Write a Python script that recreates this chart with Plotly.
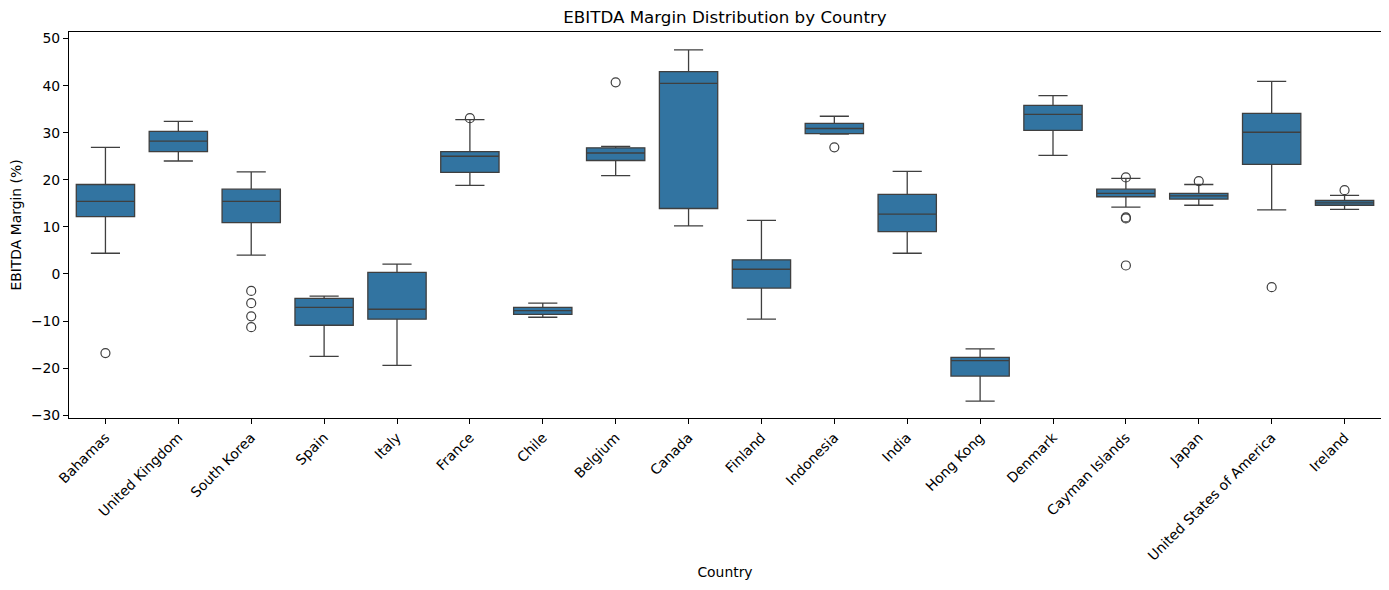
import plotly.graph_objects as go

# box statistics (EBITDA margin, %)
countries = ["Bahamas", "United Kingdom", "South Korea", "Spain", "Italy", "France",
             "Chile", "Belgium", "Canada", "Finland", "Indonesia", "India",
             "Hong Kong", "Denmark", "Cayman Islands", "Japan",
             "United States of America", "Ireland"]
lower_whisker = [4.4, 24.0, 4.0, -17.5, -19.4, 18.8, -9.2, 20.9, 10.2, -9.6, 29.7, 4.4,
                 -27.0, 25.2, 14.2, 14.6, 13.6, 13.7]
q1 = [12.2, 26.0, 10.9, -10.9, -9.6, 21.6, -8.6, 24.1, 13.9, -3.0, 29.8, 9.0,
      -21.7, 30.5, 16.4, 15.9, 23.3, 14.6]
medians = [15.4, 28.2, 15.4, -7.1, -7.5, 25.0, -7.8, 25.7, 40.5, 1.0, 30.9, 12.7,
           -18.4, 33.9, 17.1, 16.6, 30.1, 15.1]
q3 = [19.0, 30.3, 18.0, -5.2, 0.35, 26.0, -7.1, 26.8, 43.0, 3.0, 32.0, 16.9,
      -17.7, 35.8, 18.0, 17.1, 34.1, 15.6]
upper_whisker = [26.9, 32.4, 21.7, -4.7, 2.1, 32.8, -6.2, 27.1, 47.6, 11.4, 33.5, 21.8,
                 -15.9, 37.9, 20.3, 19.0, 40.9, 16.7]

outlier_countries = ["Bahamas", "South Korea", "South Korea", "South Korea", "South Korea",
                     "France", "Belgium", "Indonesia", "Cayman Islands", "Cayman Islands",
                     "Cayman Islands", "Cayman Islands", "Japan",
                     "United States of America", "Ireland"]
outlier_values = [-16.8, -3.6, -6.2, -9.0, -11.3, 33.1, 40.7, 26.9, 20.5, 12.0, 11.8, 1.8,
                  19.7, -2.8, 17.8]

edge = "#3f3f3f"

fig = go.Figure()
fig.add_trace(go.Box(
    x=countries, q1=q1, median=medians, q3=q3,
    lowerfence=lower_whisker, upperfence=upper_whisker,
    boxpoints=False, width=0.8, whiskerwidth=0.5,
    fillcolor="#3274a1", line=dict(color=edge, width=1.3),
    showlegend=False,
))
fig.add_trace(go.Scatter(
    x=outlier_countries, y=outlier_values, mode="markers",
    marker=dict(symbol="circle-open", size=9, color=edge, line=dict(width=1.2, color=edge)),
    showlegend=False,
))

# page body has an 8px margin, so the figure is drawn 8px smaller and shifted
fig.update_layout(
    width=1381, height=582,
    margin=dict(l=61, r=8, t=24, b=172),
    plot_bgcolor="white", paper_bgcolor="white",
    font=dict(family="DejaVu Sans", size=13.9, color="black"),
    title=dict(text="EBITDA Margin Distribution by Country", x=0.5, xref="paper",
               y=1 - 9 / 582, yref="container", yanchor="middle",
               font=dict(size=16.7)),
)
fig.update_xaxes(
    title=dict(text="Country", font=dict(size=13.9), standoff=4),
    categoryorder="array", categoryarray=countries,
    range=[-0.5, len(countries) - 0.5],
    tickangle=-45, ticks="outside", ticklen=5, tickcolor="black",
    showline=True, linecolor="black", linewidth=1, mirror=True,
    showgrid=False, zeroline=False, automargin=False,
)
fig.update_yaxes(
    title=dict(text="EBITDA Margin (%)", font=dict(size=13.9), standoff=8),
    range=[-30.6, 51.4], tickvals=[-30, -20, -10, 0, 10, 20, 30, 40, 50],
    ticks="outside", ticklen=5, tickcolor="black",
    showline=True, linecolor="black", linewidth=1, mirror=True,
    showgrid=False, zeroline=False, automargin=False,
)

fig.write_html("out.html")
